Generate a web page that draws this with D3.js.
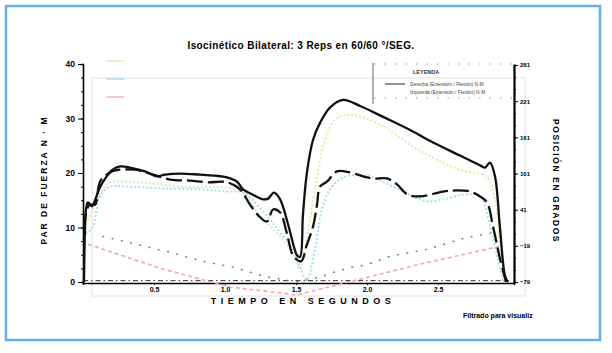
<!DOCTYPE html>
<html>
<head>
<meta charset="utf-8">
<script src="https://cdn.jsdelivr.net/npm/d3@7"></script>
<style>
  html, body { margin: 0; padding: 0; background: #fff; }
</style>
</head>
<body>
<div id="chart"></div>
<script>
// ── Datos: [tiempo (s), valor] ───────────────────────────────────────────
// Par de fuerza (N·M), eje izquierdo
const parDerecha = [
  [0.007, 0], [0.014, 9.7], [0.021, 13.3], [0.035, 14.6], [0.063, 13.9], [0.092, 15.5],
  [0.12, 17.4], [0.162, 19.2], [0.204, 20.5], [0.261, 21.2], [0.331, 21.0], [0.437, 20.3],
  [0.521, 19.4], [0.577, 19.7], [0.683, 19.9], [0.824, 19.7], [0.93, 19.5], [1.014, 19.2],
  [1.085, 18.4], [1.127, 17.0], [1.19, 16.1], [1.261, 15.2], [1.303, 15.3], [1.345, 16.4],
  [1.387, 15.2], [1.444, 10.6], [1.486, 6.4], [1.507, 4.9], [1.528, 4.6], [1.549, 12.4],
  [1.577, 20.1], [1.62, 26.1], [1.669, 29.2], [1.739, 32.0], [1.831, 33.4], [1.951, 32.3],
  [2.113, 30.3], [2.303, 27.9], [2.465, 25.6], [2.655, 23.2], [2.796, 21.4], [2.831, 21.0],
  [2.866, 21.9], [2.901, 19.4], [2.937, 9.7], [2.972, 1.1], [2.993, 0]
];
const parIzquierda = [
  [0.007, 9.7], [0.028, 13.3], [0.049, 14.2], [0.085, 14.2], [0.12, 18.4], [0.19, 20.1],
  [0.261, 20.6], [0.366, 20.6], [0.472, 19.9], [0.613, 18.8], [0.754, 18.6], [0.873, 18.3],
  [1.014, 18.3], [1.106, 17.0], [1.176, 14.2], [1.246, 11.9], [1.296, 11.1], [1.338, 13.3],
  [1.387, 12.8], [1.437, 8.8], [1.479, 4.9], [1.535, 3.8], [1.577, 6.9], [1.62, 10.2],
  [1.648, 14.2], [1.669, 17.5], [1.718, 18.4], [1.789, 20.3], [1.88, 20.1], [1.972, 19.4],
  [2.042, 19.0], [2.141, 19.0], [2.211, 17.9], [2.282, 16.1], [2.373, 15.7], [2.535, 16.6],
  [2.634, 16.8], [2.725, 16.6], [2.796, 15.7], [2.845, 14.6], [2.887, 10.2], [2.937, 4.2],
  [2.979, 0]
];
const parRep2 = [
  [0.021, 10.6], [0.07, 13.3], [0.141, 17.0], [0.19, 18.3], [0.31, 18.4], [0.472, 18.1],
  [0.683, 17.5], [0.894, 17.4], [1.035, 17.2], [1.127, 16.6], [1.246, 12.1], [1.387, 8.4],
  [1.479, 5.1], [1.528, 2.4], [1.563, 6.0], [1.634, 17.0], [1.704, 26.1], [1.775, 29.8],
  [1.88, 30.7], [2.092, 28.9], [2.303, 25.2], [2.465, 22.8], [2.655, 20.6], [2.845, 19.2],
  [2.901, 15.2], [2.937, 6.9], [2.972, 0]
];
const parRep3 = [
  [0.021, 8.8], [0.07, 10.2], [0.12, 15.7], [0.19, 17.5], [0.31, 17.5], [0.542, 17.2],
  [0.824, 17.0], [1.014, 16.6], [1.127, 16.4], [1.296, 12.1], [1.387, 9.1], [1.479, 6.0],
  [1.528, 2.7], [1.577, 0.4], [1.634, 6.0], [1.683, 13.3], [1.739, 17.0], [1.831, 19.2],
  [2.0, 19.5], [2.183, 17.5], [2.324, 15.7], [2.423, 14.8], [2.563, 15.3], [2.704, 16.1],
  [2.796, 15.7], [2.887, 7.9], [2.958, 0]
];
// Posición (grados), eje derecho
const posicionA = [
  [0.035, -16.5], [0.563, -57.6], [1.035, -87.2], [1.507, -100.4], [1.761, -85.6],
  [2.373, -49.4], [2.937, -19.8]
];
const posicionB = [
  [0.141, -3.4], [0.261, -9.9], [0.521, -24.7], [0.592, -28.0], [0.732, -37.9], [0.873, -46.1],
  [1.056, -54.3], [1.176, -62.6], [1.268, -69.1], [1.387, -74.1], [1.507, -79], [1.669, -70.8],
  [1.789, -60.9], [1.894, -54.3], [1.986, -51.0], [2.07, -44.5], [2.162, -36.3], [2.423, -24.7],
  [2.704, -5.0], [2.746, -3.4], [2.937, 4.8]
];

const ticksX = [0.5, 1.0, 1.5, 2.0, 2.5];
const ticksPar = [0, 10, 20, 30, 40];
const ticksGrados = [-79, -19, 41, 101, 161, 221, 281];

const titulo = "Isocinético Bilateral: 3 Reps  en 60/60 °/SEG.";
const leyenda = ["LEYENDA", "Derecha  (Extensión / Flexión)  N·M", "Izquierda  (Extensión / Flexión)  N·M"];

// ── SVG ───────────────────────────────────────────────────────────────────
const width = 612, height = 353;
const font = "'Liberation Sans', Arial, sans-serif";

const svg = d3.select("#chart").append("svg")
  .attr("width", width)
  .attr("height", height)
  .style("font-family", font);

// Marco exterior azul
svg.append("rect")
  .attr("x", 6).attr("y", 6).attr("width", 594).attr("height", 334)
  .attr("fill", "#fff").attr("stroke", "#5fb0e4").attr("stroke-width", 2.5);

// Marco gris interior
svg.append("rect")
  .attr("x", 92).attr("y", 78).attr("width", 433).attr("height", 218)
  .attr("fill", "none").attr("stroke", "#e2e2e2").attr("stroke-width", 1);

// ── Escalas ───────────────────────────────────────────────────────────────
const x = d3.scaleLinear().domain([0, 3.035]).range([83, 514]);
const yPar = d3.scaleLinear().domain([0, 40]).range([282, 64]);
const yGrados = d3.scaleLinear().domain([-79, 281]).range([282, 65]);

// ── Ejes ──────────────────────────────────────────────────────────────────
const ejeIzq = svg.append("g").attr("transform", `translate(${x(0)},0)`)
  .call(d3.axisLeft(yPar).tickValues(d3.range(0, 40.1, 2.5)).tickSize(2).tickFormat(""));
ejeIzq.selectAll(".tick line").attr("stroke-width", 1);
ejeIzq.select(".domain").attr("stroke-width", 1.6);

const ejeIzqMayor = svg.append("g").attr("transform", `translate(${x(0)},0)`)
  .call(d3.axisLeft(yPar).tickValues(ticksPar).tickSize(5).tickPadding(3));
ejeIzqMayor.select(".domain").remove();
ejeIzqMayor.selectAll("text").attr("font-size", 8.5).attr("font-weight", "bold").attr("font-family", font);

const ejeDer = svg.append("g").attr("transform", `translate(${x.range()[1]},0)`)
  .call(d3.axisRight(yGrados).tickValues(d3.range(-79, 282, 20)).tickSize(2).tickFormat(""));
ejeDer.select(".domain").attr("stroke-width", 2.2);

const ejeDerMayor = svg.append("g").attr("transform", `translate(${x.range()[1]},0)`)
  .call(d3.axisRight(yGrados).tickValues(ticksGrados).tickSize(4).tickPadding(2));
ejeDerMayor.select(".domain").remove();
ejeDerMayor.selectAll("text").attr("font-size", 6).attr("font-weight", "bold").attr("font-family", font);

const ejeX = svg.append("g").attr("transform", `translate(0,${yPar(0) + 1})`)
  .call(d3.axisBottom(x).tickValues(ticksX).tickSize(2).tickPadding(2).tickFormat(d3.format(".1f")));
ejeX.select(".domain").attr("stroke-width", 1.4);
ejeX.selectAll("text").attr("font-size", 7).attr("font-weight", "bold").attr("font-family", font);

// Línea de cero punteada
svg.append("line")
  .attr("x1", x(0)).attr("x2", x(3.0))
  .attr("y1", yPar(0.25)).attr("y2", yPar(0.25))
  .attr("stroke", "#333").attr("stroke-width", 1)
  .attr("stroke-dasharray", "5,3,1.5,3");

// ── Curvas ────────────────────────────────────────────────────────────────
const lineaPar = d3.line().x(d => x(d[0])).y(d => yPar(d[1])).curve(d3.curveCatmullRom.alpha(0.5));
const lineaGrados = d3.line().x(d => x(d[0])).y(d => yGrados(d[1])).curve(d3.curveLinear);

svg.append("path").datum(posicionA)
  .attr("d", lineaGrados).attr("fill", "none")
  .attr("stroke", "#f2a6b4").attr("stroke-width", 1.6).attr("stroke-dasharray", "4,3");

svg.append("path").datum(posicionB)
  .attr("d", lineaGrados).attr("fill", "none")
  .attr("stroke", "#777").attr("stroke-width", 1.6)
  .attr("stroke-linecap", "round").attr("stroke-dasharray", "0.5,9");

svg.append("path").datum(parRep2)
  .attr("d", lineaPar).attr("fill", "none")
  .attr("stroke", "#e2eab0").attr("stroke-width", 2).attr("stroke-dasharray", "2,2");

svg.append("path").datum(parRep3)
  .attr("d", lineaPar).attr("fill", "none")
  .attr("stroke", "#acdcf2").attr("stroke-width", 2).attr("stroke-dasharray", "2,2");

svg.append("path").datum(parIzquierda)
  .attr("d", lineaPar).attr("fill", "none")
  .attr("stroke", "#111").attr("stroke-width", 2.3).attr("stroke-dasharray", "16,5");

svg.append("path").datum(parDerecha)
  .attr("d", lineaPar).attr("fill", "none")
  .attr("stroke", "#111").attr("stroke-width", 2.3);

// ── Leyenda de colores (arriba izquierda) ────────────────────────────────
const coloresRep = [["#e2eab0", 61], ["#acdcf2", 79], ["#f4b4c0", 97]];
svg.append("g").selectAll("line")
  .data(coloresRep)
  .join("line")
  .attr("x1", 106).attr("x2", 124)
  .attr("y1", d => d[1]).attr("y2", d => d[1])
  .attr("stroke", d => d[0]).attr("stroke-width", 1.5);

// ── Leyenda (caja) ────────────────────────────────────────────────────────
const ley = svg.append("g");
ley.append("line").attr("x1", 373).attr("x2", 373).attr("y1", 63).attr("y2", 104)
  .attr("stroke", "#999").attr("stroke-width", 1.5);
[64, 98].forEach(yy => ley.append("line")
  .attr("x1", 374).attr("x2", 513).attr("y1", yy).attr("y2", yy)
  .attr("stroke", "#999").attr("stroke-width", 1.2).attr("stroke-dasharray", "1.5,9"));
ley.append("text").attr("x", 413).attr("y", 74)
  .attr("font-size", 5.5).attr("font-weight", "bold").attr("fill", "#333").text(leyenda[0]);
ley.append("line").attr("x1", 385).attr("x2", 405).attr("y1", 84).attr("y2", 84)
  .attr("stroke", "#888").attr("stroke-width", 1.8);
ley.append("text").attr("x", 410).attr("y", 86)
  .attr("font-size", 4.8).attr("fill", "#444").text(leyenda[1]);
ley.append("text").attr("x", 410).attr("y", 94)
  .attr("font-size", 4.8).attr("fill", "#444").text(leyenda[2]);

// ── Textos ────────────────────────────────────────────────────────────────
svg.append("text")
  .attr("x", 301).attr("y", 49)
  .attr("text-anchor", "middle")
  .attr("font-size", 10).attr("font-weight", "bold")
  .attr("letter-spacing", 0.4)
  .text(titulo);

svg.append("text")
  .attr("x", 303).attr("y", 304)
  .attr("text-anchor", "middle")
  .attr("font-size", 9).attr("font-weight", "bold")
  .attr("letter-spacing", 4.5)
  .text("TIEMPO  EN  SEGUNDOS");

svg.append("text")
  .attr("transform", "translate(47,180) rotate(-90)")
  .attr("text-anchor", "middle")
  .attr("font-size", 8.5).attr("font-weight", "bold")
  .attr("letter-spacing", 2)
  .text("PAR DE FUERZA   N · M");

svg.append("text")
  .attr("transform", "translate(553,181) rotate(90)")
  .attr("text-anchor", "middle")
  .attr("font-size", 8.5).attr("font-weight", "bold")
  .attr("letter-spacing", 1.6)
  .text("POSICIÓN EN GRADOS");

svg.append("text")
  .attr("x", 463).attr("y", 318)
  .attr("font-size", 7).attr("font-weight", "bold")
  .text("Filtrado para visualiz");
</script>
</body>
</html>
